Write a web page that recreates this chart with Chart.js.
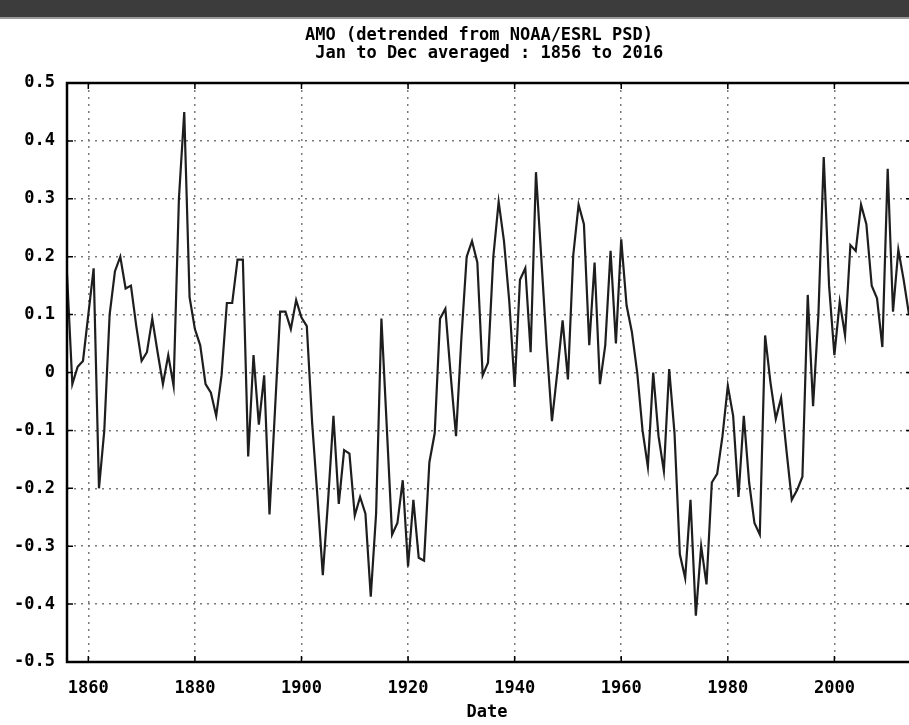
<!DOCTYPE html>
<html>
<head>
<meta charset="utf-8">
<script src="https://cdn.jsdelivr.net/npm/chart.js@4.4.0/dist/chart.umd.min.js"></script>
<style>
  body { margin: 0; background: #fff; }
  #wrap { width: 909px; height: 725px; position: relative; }
</style>
</head>
<body>
<div id="wrap"><canvas id="amoChart" width="909" height="725"></canvas></div>
<script>
// AMO annual means, 1856 onward
const firstYear = 1856;
const amo = [
  0.17, -0.02, 0.01, 0.02, 0.10, 0.18, -0.20, -0.10, 0.10, 0.175,
  0.20, 0.145, 0.15, 0.08, 0.02, 0.035, 0.093, 0.035, -0.02, 0.03,
  -0.023, 0.30, 0.45, 0.13, 0.075, 0.047, -0.02, -0.035, -0.075, -0.005,
  0.12, 0.12, 0.195, 0.195, -0.145, 0.03, -0.09, -0.005, -0.245, -0.07,
  0.105, 0.105, 0.075, 0.125, 0.095, 0.08, -0.087, -0.215, -0.35, -0.22,
  -0.075, -0.227, -0.134, -0.14, -0.247, -0.215, -0.244, -0.387, -0.244, 0.093,
  -0.093, -0.28, -0.26, -0.186, -0.335, -0.22, -0.32, -0.325, -0.155, -0.105,
  0.093, 0.11, -0.005, -0.11, 0.058, 0.20, 0.227, 0.19, -0.005, 0.017,
  0.20, 0.295, 0.227, 0.122, -0.025, 0.16, 0.18, 0.035, 0.346, 0.198,
  0.047, -0.084, 0.0, 0.09, -0.012, 0.203, 0.29, 0.256, 0.047, 0.19,
  -0.02, 0.047, 0.21, 0.05, 0.23, 0.116, 0.07, 0.0, -0.10, -0.163,
  0.0, -0.11, -0.17, 0.006, -0.105, -0.314, -0.355, -0.22, -0.42, -0.30,
  -0.366, -0.19, -0.175, -0.11, -0.023, -0.075, -0.215, -0.075, -0.19, -0.26,
  -0.28, 0.064, -0.017, -0.08, -0.044, -0.134, -0.22, -0.203, -0.18, 0.134,
  -0.058, 0.10, 0.372, 0.15, 0.03, 0.122, 0.064, 0.22, 0.21, 0.29,
  0.256, 0.15, 0.128, 0.044, 0.352, 0.105, 0.212, 0.16, 0.10
];
const years = amo.map((v, i) => firstYear + i);
const xTicks = [1860, 1880, 1900, 1920, 1940, 1960, 1980, 2000];
const yTicks = [-0.5, -0.4, -0.3, -0.2, -0.1, 0, 0.1, 0.2, 0.3, 0.4, 0.5];
const titleLines = ['AMO (detrended from NOAA/ESRL PSD)', ' Jan to Dec averaged : 1856 to 2016'];

const monoBold = { family: '"DejaVu Sans Mono", monospace', size: 17, weight: 'bold' };

// header bar, titles, frame and inward ticks
const decor = {
  id: 'decor',
  beforeDraw(chart) {
    const c = chart.ctx;
    c.save();
    c.fillStyle = '#fff';
    c.fillRect(0, 0, chart.width, chart.height);
    c.fillStyle = '#3c3c3c';
    c.fillRect(0, 0, chart.width, 17);
    c.fillStyle = '#9a9a9a';
    c.fillRect(0, 17, chart.width, 2);
    c.fillStyle = '#000';
    c.font = 'bold 17px "DejaVu Sans Mono", monospace';
    c.textBaseline = 'middle';
    c.textAlign = 'left';
    c.fillText(titleLines[0], 305, 36);
    c.fillText(titleLines[1], 305, 54);
    c.restore();
  },
  afterDraw(chart) {
    const c = chart.ctx, a = chart.chartArea;
    const xs = chart.scales.x, ys = chart.scales.y;
    c.save();
    c.strokeStyle = '#000';
    c.lineWidth = 2.5;
    c.beginPath();
    c.moveTo(a.right + 2, a.top); c.lineTo(a.left, a.top);
    c.lineTo(a.left, a.bottom); c.lineTo(a.right + 2, a.bottom);
    c.stroke();
    c.lineWidth = 1.5;
    c.beginPath();
    xTicks.forEach(t => {
      const px = xs.getPixelForValue(t);
      c.moveTo(px, a.top); c.lineTo(px, a.top + 6);
      c.moveTo(px, a.bottom); c.lineTo(px, a.bottom - 6);
    });
    yTicks.forEach(t => {
      const py = ys.getPixelForValue(t);
      c.moveTo(a.left, py); c.lineTo(a.left + 6, py);
      c.moveTo(a.right, py); c.lineTo(a.right - 3, py);
    });
    c.stroke();
    c.fillStyle = '#000';
    c.font = 'bold 17px "DejaVu Sans Mono", monospace';
    c.textAlign = 'center';
    c.textBaseline = 'middle';
    c.fillText('Date', (a.left + 907) / 2, 713);
    c.restore();
  }
};

const ctx = document.getElementById('amoChart').getContext('2d');
const amoChart = new Chart(ctx, {
  type: 'line',
  data: {
    datasets: [{
      data: years.map((y, i) => ({ x: y, y: amo[i] })),
      borderColor: '#1e1e1e',
      borderWidth: 2.2,
      pointRadius: 0,
      tension: 0,
      fill: false
    }]
  },
  options: {
    responsive: false,
    animation: false,
    layout: { padding: { top: 83, right: 0, left: 0, bottom: 0 } },
    plugins: { legend: { display: false }, tooltip: { enabled: false } },
    scales: {
      x: {
        type: 'linear',
        min: 1856,
        max: 2014,
        afterBuildTicks: s => { s.ticks = xTicks.map(v => ({ value: v })); },
        afterFit: s => { s.height = 63; },
        border: { display: false, dash: [2, 5] },
        grid: { color: '#7a7a7a', lineWidth: 1.5, drawTicks: false },
        ticks: { color: '#000', font: monoBold, padding: 16, maxRotation: 0, callback: v => String(v) }
      },
      y: {
        min: -0.5,
        max: 0.5,
        afterBuildTicks: s => { s.ticks = yTicks.map(v => ({ value: v })); },
        afterFit: s => { s.width = 67; },
        border: { display: false, dash: [2, 5] },
        grid: { color: '#7a7a7a', lineWidth: 1.5, drawTicks: false },
        ticks: { color: '#000', font: monoBold, padding: 12, callback: v => v === 0 ? '0' : v.toFixed(1) }
      }
    }
  },
  plugins: [decor]
});
</script>
</body>
</html>
